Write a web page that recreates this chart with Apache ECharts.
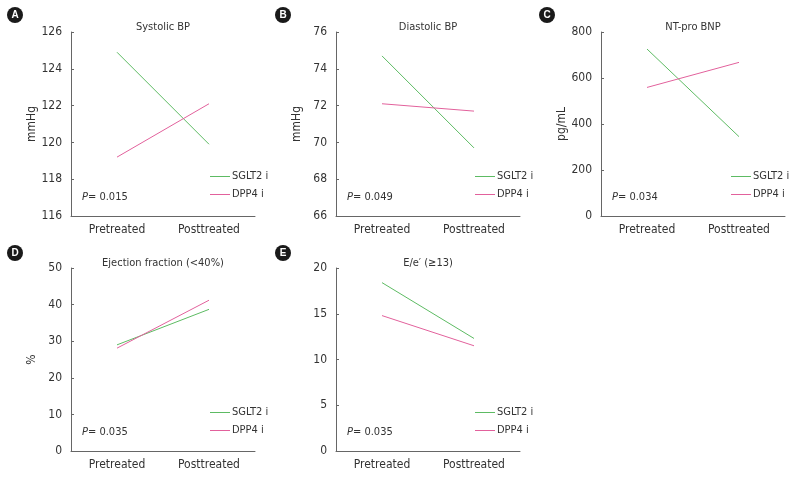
<!DOCTYPE html>
<html><head><meta charset="utf-8">
<script src="https://cdn.jsdelivr.net/npm/echarts@6/dist/echarts.min.js"></script>
<style>html,body{margin:0;padding:0;background:#fff}#c{width:794px;height:478px}</style>
</head><body><div id="c"></div>
<script>
const categories = ['Pretreated', 'Posttreated'];
const seriesNames = ['SGLT2 i', 'DPP4 i'];
const panelLetters = ['A', 'B', 'C', 'D', 'E'];
const panelTitles = ['Systolic BP', 'Diastolic BP', 'NT-pro BNP', 'Ejection fraction (<40%)', "E/e′ (≥13)"];
const yNames = ['mmHg', 'mmHg', 'pg/mL', '%', ''];
const pValues = ['0.015', '0.049', '0.034', '0.035', '0.035'];
const yMin = [116, 66, 0, 0, 0];
const yMax = [126, 76, 800, 50, 20];
const yInterval = [2, 2, 200, 10, 5];
const sglt2 = [[124.9, 119.9], [74.7, 69.7], [726, 345], [29.0, 38.7], [18.4, 12.3]];
const dpp4 = [[119.2, 122.1], [72.1, 71.7], [559, 668], [28.1, 41.2], [14.8, 11.5]];

const FONT = "'DejaVu Sans Condensed', 'Liberation Sans Narrow', sans-serif";
const FS = 11;
const GREEN = '#5dbb63';
const PINK = '#e2619c';
const COLORS = [GREEN, PINK];
const AXIS = '#666';
const TXT = '#333';

const gridPos = [
  {left: 71, top: 32, width: 184, height: 184},
  {left: 336, top: 32, width: 184, height: 184},
  {left: 601, top: 32, width: 184, height: 184},
  {left: 71, top: 268, width: 184, height: 183},
  {left: 336, top: 268, width: 184, height: 183}
];
const legendShift = [139, 139, 130, 139, 139];
const letterPos = [[15, 15], [283, 15], [547, 15], [15, 253], [283, 253]];

const grids = [], xAxes = [], yAxes = [], series = [], legends = [], graphics = [];
gridPos.forEach((g, i) => {
  grids.push(Object.assign({containLabel: false}, g));
  xAxes.push({
    type: 'category', gridIndex: i, data: categories,
    axisLine: {lineStyle: {color: AXIS, width: 1}},
    axisTick: {inside: true, length: 3, lineStyle: {color: AXIS}},
    axisLabel: {color: TXT, fontFamily: FONT, fontSize: FS + 1, margin: 8}
  });
  yAxes.push({
    type: 'value', gridIndex: i, min: yMin[i], max: yMax[i], interval: yInterval[i],
    name: yNames[i], nameLocation: 'middle', nameGap: 33,
    nameTextStyle: {color: TXT, fontFamily: FONT, fontSize: FS + 1},
    axisLine: {show: true, lineStyle: {color: AXIS, width: 1}},
    axisTick: {show: true, inside: true, length: 3, lineStyle: {color: AXIS}},
    splitLine: {show: false},
    axisLabel: {color: TXT, fontFamily: FONT, fontSize: FS + 1, margin: 9}
  });
  series.push({
    name: seriesNames[0], type: 'line', xAxisIndex: i, yAxisIndex: i, data: sglt2[i],
    symbol: 'none', lineStyle: {color: GREEN, width: 1}, itemStyle: {color: GREEN}, animation: false
  });
  series.push({
    name: seriesNames[1], type: 'line', xAxisIndex: i, yAxisIndex: i, data: dpp4[i],
    symbol: 'none', lineStyle: {color: PINK, width: 1}, itemStyle: {color: PINK}, animation: false
  });
  legends.push({
    data: seriesNames.map((n, k) => ({name: n, icon: 'rect', itemStyle: {color: COLORS[k], borderWidth: 0}})),
    orient: 'vertical', padding: 0,
    left: g.left + legendShift[i], top: g.top + 139,
    itemWidth: 20, itemHeight: 1, itemGap: 7,
    textStyle: {color: TXT, fontFamily: FONT, fontSize: FS, padding: [0, 0, 0, -3]},
    selectedMode: false
  });
  graphics.push({
    type: 'text', x: g.left + g.width / 2, y: g.top - 5,
    style: {text: panelTitles[i], fill: TXT, font: FS + 'px ' + FONT, textAlign: 'center', textVerticalAlign: 'middle'}
  });
  graphics.push({
    type: 'text', x: g.left + 11, y: g.top + g.height - 19,
    style: {
      text: '{i|P}= ' + pValues[i], fill: TXT, font: FS + 'px ' + FONT, textVerticalAlign: 'middle',
      rich: {i: {fontStyle: 'italic', fontFamily: FONT, fontSize: FS, fill: TXT}}
    }
  });
  graphics.push({
    type: 'circle', shape: {cx: letterPos[i][0], cy: letterPos[i][1], r: 8},
    style: {fill: '#1a1a1a'}
  });
  graphics.push({
    type: 'text', x: letterPos[i][0], y: letterPos[i][1] + 0.5,
    style: {text: panelLetters[i], fill: '#fff', font: 'bold 10px Arial, sans-serif', textAlign: 'center', textVerticalAlign: 'middle'}
  });
});

const chart = echarts.init(document.getElementById('c'), null, {renderer: 'canvas'});
chart.setOption({
  animation: false,
  grid: grids, xAxis: xAxes, yAxis: yAxes, series: series, legend: legends, graphic: graphics
});
</script></body></html>
